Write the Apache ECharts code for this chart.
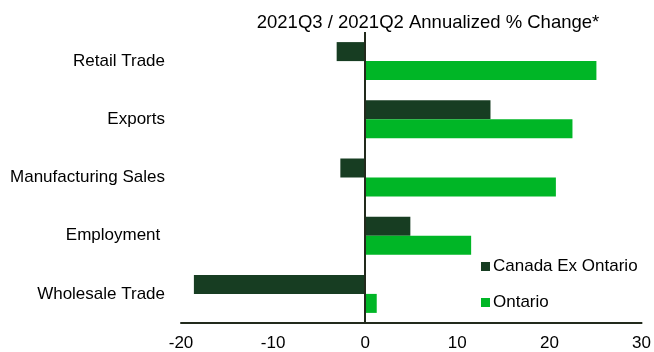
<!DOCTYPE html>
<html>
<head>
<meta charset="utf-8">
<script src="https://cdn.jsdelivr.net/npm/echarts@6/dist/echarts.min.js"></script>
<style>
  html, body { margin: 0; padding: 0; background: #fff; }
  #chart { width: 654px; height: 352px; }
</style>
</head>
<body>
<div id="chart"></div>
<script>
// Quarterly indicators, annualized % change
const categories = ['Retail Trade', 'Exports', 'Manufacturing Sales', 'Employment ', 'Wholesale Trade'];
const canadaExOntario = [-3.1, 13.6, -2.7, 4.9, -18.6];
const ontario = [25.1, 22.5, 20.7, 11.5, 1.25];
const xTicks = [-20, -10, 0, 10, 20, 30];

const FONT = '"Liberation Sans", Arial, sans-serif';
const DARK = '#173d22';
const BRIGHT = '#00b626';

const chart = echarts.init(document.getElementById('chart'), null, { renderer: 'canvas' });

chart.setOption({
  animation: false,
  backgroundColor: '#fff',
  title: {
    text: '2021Q3 / 2021Q2 Annualized % Change*',
    left: 423,
    textAlign: 'center',
    top: 8,
    textStyle: { fontFamily: FONT, fontSize: 18.5, fontWeight: 'normal', color: '#000' }
  },
  legend: {
    orient: 'vertical',
    left: 476,
    top: 253,
    itemWidth: 9,
    itemHeight: 9,
    itemGap: 19,
    icon: 'rect',
    textStyle: { fontFamily: FONT, fontSize: 17, color: '#000', padding: [0, 0, 0, -2] },
    data: ['Canada Ex Ontario', 'Ontario']
  },
  grid: { left: 181, right: 11, top: 32, bottom: 29, containLabel: false },
  xAxis: {
    type: 'value',
    min: xTicks[0],
    max: xTicks[xTicks.length - 1],
    interval: 10,
    axisLine: { show: true, onZero: false, lineStyle: { color: '#222a1c', width: 2 } },
    axisTick: { show: false },
    splitLine: { show: false },
    axisLabel: { fontFamily: FONT, fontSize: 17, color: '#000', margin: 12 }
  },
  yAxis: {
    type: 'category',
    inverse: true,
    data: categories,
    axisLine: { show: false },
    axisTick: { show: false },
    axisLabel: { fontFamily: FONT, fontSize: 17, color: '#000', margin: 16 }
  },
  series: [
    {
      name: 'Canada Ex Ontario',
      type: 'bar',
      data: canadaExOntario,
      barWidth: 19,
      barGap: '0%',
      itemStyle: { color: DARK },
      markLine: {
        silent: true,
        symbol: 'none',
        label: { show: false },
        lineStyle: { color: '#222a1c', width: 2, type: 'solid' },
        data: [{ xAxis: 0 }]
      }
    },
    {
      name: 'Ontario',
      type: 'bar',
      data: ontario,
      barWidth: 19,
      barGap: '0%',
      itemStyle: { color: BRIGHT }
    }
  ]
});
</script>
</body>
</html>
